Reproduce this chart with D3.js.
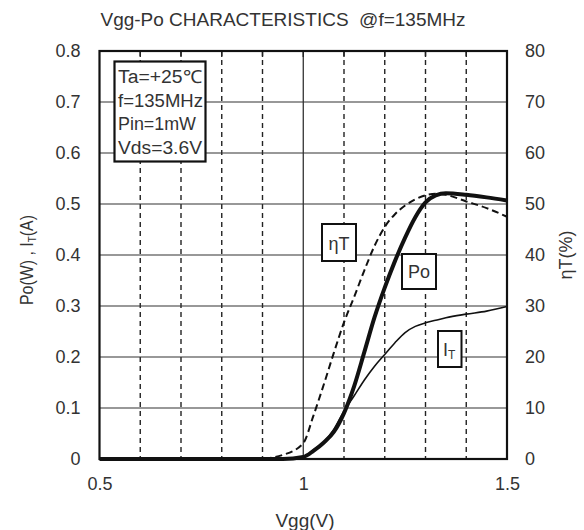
<!DOCTYPE html>
<html><head><meta charset="utf-8">
<script src="https://cdn.jsdelivr.net/npm/d3@7"></script>
<style>body{margin:0;background:#fff}svg{display:block}text{font-family:"Liberation Sans",Arial,sans-serif;fill:#333}</style>
</head><body><svg id="c" width="584" height="530"></svg>
<script>
const vgg = [0.5, 0.85, 0.9, 0.95, 1.0, 1.025, 1.05, 1.075, 1.1, 1.125, 1.15, 1.175, 1.2, 1.225, 1.25, 1.275, 1.3, 1.325, 1.35, 1.4, 1.45, 1.5];
const po  = [0, 0, 0, 0, 0.004, 0.016, 0.032, 0.053, 0.09, 0.143, 0.21, 0.278, 0.336, 0.388, 0.434, 0.474, 0.503, 0.517, 0.521, 0.518, 0.513, 0.507];
const eta = [0, 0, 0.1, 0.8, 3.1, 8.5, 14.5, 20.8, 26.8, 31.8, 37, 41.8, 45.5, 48, 49.7, 50.9, 51.7, 52.0, 51.8, 50.5, 49.2, 47.5];
const it  = [0, 0, 0, 0, 0.004, 0.018, 0.033, 0.058, 0.094, 0.124, 0.155, 0.182, 0.205, 0.228, 0.248, 0.26, 0.267, 0.272, 0.277, 0.284, 0.29, 0.299];
const xTicks = [0.5, 1, 1.5];
const xGrid = [0.6, 0.7, 0.8, 0.9, 1.0, 1.1, 1.2, 1.3, 1.4];
const yLeftTicks = [0, 0.1, 0.2, 0.3, 0.4, 0.5, 0.6, 0.7, 0.8];
const yRightTicks = [0, 10, 20, 30, 40, 50, 60, 70, 80];
const conditions = ["Ta=+25\u2103", "f=135MHz", "Pin=1mW", "Vds=3.6V"];

const svg = d3.select("#c");
const L = 99.5, R = 507, T = 51, B = 459;
const x = d3.scaleLinear().domain([0.5, 1.5]).range([L, R]);
const y = d3.scaleLinear().domain([0, 0.8]).range([B, T]);
const y2 = d3.scaleLinear().domain([0, 80]).range([B, T]);

// grid
svg.append("g").selectAll("line").data(xGrid).join("line")
  .attr("x1", d => x(d)).attr("x2", d => x(d)).attr("y1", T).attr("y2", B)
  .attr("stroke", "#222").attr("stroke-width", d => d === 1 ? 1.2 : 1.4)
  .attr("stroke-dasharray", d => d === 1 ? null : "5,4");
svg.append("g").selectAll("line").data(xGrid).join("line")
  .attr("x1", d => x(d)).attr("x2", d => x(d)).attr("y1", T).attr("y2", T + 6)
  .attr("stroke", "#222").attr("stroke-width", 1.4);
svg.append("g").selectAll("line").data(yLeftTicks.slice(1, -1)).join("line")
  .attr("x1", L).attr("x2", R).attr("y1", d => y(d)).attr("y2", d => y(d))
  .attr("stroke", "#333").attr("stroke-width", 1.2);

// axes (labels only)
const fs = 18;
const axL = svg.append("g").attr("transform", `translate(${L},0)`).call(d3.axisLeft(y).tickValues(yLeftTicks).tickSize(0).tickPadding(19).tickFormat(d => d === 0 ? "0" : d3.format(".1f")(d)));
const axR = svg.append("g").attr("transform", `translate(${R},0)`).call(d3.axisRight(y2).tickValues(yRightTicks).tickSize(0).tickPadding(18).tickFormat(d3.format("d")));
const axB = svg.append("g").attr("transform", `translate(0,${B})`).call(d3.axisBottom(x).tickValues(xTicks).tickSize(0).tickPadding(18).tickFormat(d => d === 1 ? "1" : d3.format(".1f")(d)));
[axL, axR, axB].forEach(a => { a.select(".domain").remove(); a.selectAll("text").attr("font-size", fs).attr("fill", "#333").attr("font-family", "Liberation Sans, Arial, sans-serif"); });

// frame
svg.append("rect").attr("x", L).attr("y", T).attr("width", R - L).attr("height", B - T)
  .attr("fill", "none").attr("stroke", "#111").attr("stroke-width", 2.2);

// curves
const lineL = d3.line().x((d, i) => x(vgg[i])).y(d => y(d)).curve(d3.curveMonotoneX);
const lineR = d3.line().x((d, i) => x(vgg[i])).y(d => y2(d)).curve(d3.curveMonotoneX);
svg.append("path").attr("d", lineR(eta)).attr("fill", "none").attr("stroke", "#111").attr("stroke-width", 2).attr("stroke-dasharray", "7,4");
svg.append("path").attr("d", lineL(it)).attr("fill", "none").attr("stroke", "#111").attr("stroke-width", 1.6);
svg.append("path").attr("d", lineL(po)).attr("fill", "none").attr("stroke", "#111").attr("stroke-width", 4);

// condition box
const cb = svg.append("g");
cb.append("rect").attr("x", 114.5).attr("y", 61.5).attr("width", 91).attr("height", 100).attr("fill", "#fff").attr("stroke", "#111").attr("stroke-width", 2.2);
cb.selectAll("text").data(conditions).join("text")
  .attr("x", 118).attr("y", (d, i) => 83 + i * 23.5).attr("font-size", 18).attr("textLength", (d, i) => [84, 85, 78, 84][i]).attr("lengthAdjust", "spacingAndGlyphs").text(d => d);

// curve labels
function labelBox(x0, y0, w, h) {
  svg.append("rect").attr("x", x0).attr("y", y0).attr("width", w).attr("height", h).attr("fill", "#fff").attr("stroke", "#111").attr("stroke-width", 2);
}
labelBox(322, 224, 34, 37);
svg.append("text").attr("x", 339).attr("y", 249.5).attr("text-anchor", "middle").attr("font-size", 18).text("\u03b7T");
labelBox(402, 254, 34, 35);
svg.append("text").attr("x", 419).attr("y", 278).attr("text-anchor", "middle").attr("font-size", 18).text("Po");
labelBox(438, 331, 23.5, 36);
const itT = svg.append("text").attr("x", 443).attr("y", 356).attr("font-size", 18);
itT.append("tspan").text("I");
itT.append("tspan").attr("font-size", 12).attr("dy", 3).text("T");

// titles
svg.append("text").attr("x", 283).attr("y", 26).attr("text-anchor", "middle").attr("font-size", 19).text("Vgg-Po CHARACTERISTICS \u00a0@f=135MHz");
svg.append("text").attr("x", 305).attr("y", 527).attr("text-anchor", "middle").attr("font-size", 19).text("Vgg(V)");
const yl = svg.append("text").attr("transform", "translate(33,260) rotate(-90) scale(0.86,1)").attr("text-anchor", "middle").attr("font-size", 18.5);
yl.append("tspan").text("Po(W) , I");
yl.append("tspan").attr("font-size", 11.5).attr("dy", 3).text("T");
yl.append("tspan").attr("dy", -3).text("(A)");
svg.append("text").attr("transform", "translate(572,255) rotate(-90)").attr("text-anchor", "middle").attr("font-size", 18).text("\u03b7T(%)");
</script></body></html>
